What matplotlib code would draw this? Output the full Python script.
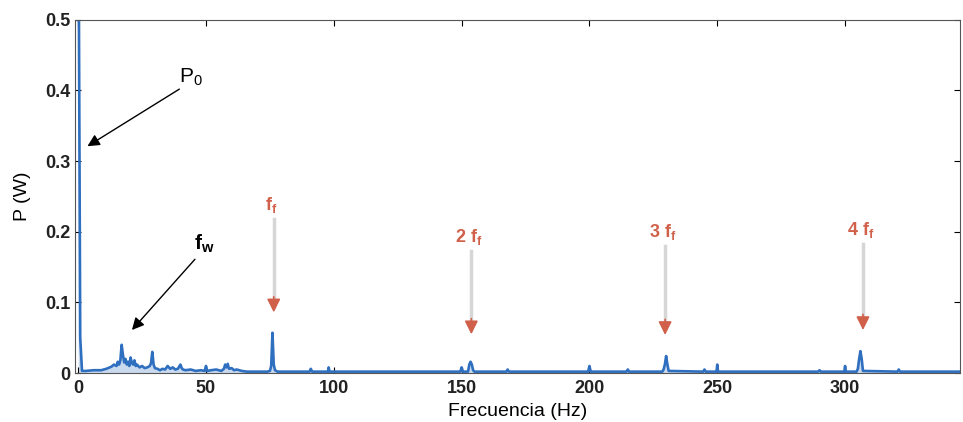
import matplotlib.pyplot as plt

plt.rcParams['font.family'] = ['Liberation Sans', 'DejaVu Sans']
plt.rcParams['mathtext.fontset'] = 'custom'
plt.rcParams['mathtext.rm'] = 'Liberation Sans'
plt.rcParams['mathtext.bf'] = 'Liberation Sans:bold'
plt.rcParams['mathtext.it'] = 'Liberation Sans'

# spectrum (Hz, W)
freq = [0, 0.3, 0.8, 1.5, 3, 6, 9, 11, 13, 14, 15, 15.5, 16, 16.5, 17, 17.5, 18, 18.5,
        19, 19.5, 20, 20.5, 21, 21.5, 22, 22.5, 23, 24, 25, 26, 27, 28, 28.5, 29, 29.5,
        30, 31, 32, 33, 34, 35, 36, 37, 38, 39, 40, 40.5, 41, 42, 44, 46, 48, 49.5, 50,
        50.5, 52, 54, 56, 57, 57.5, 58, 58.5, 59, 60, 61, 62, 64, 66, 70, 74, 75, 75.5,
        76, 76.5, 77, 78, 82, 88, 90.5, 91, 91.5, 95, 97.7, 98, 98.3, 110, 130, 149.5,
        150, 150.5, 152.5, 153, 153.5, 154, 154.5, 155, 160, 167.5, 168, 168.5, 185,
        199.5, 200, 200.5, 214.5, 215, 215.5, 228.5, 229, 229.5, 230, 230.5, 231, 244.5,
        245, 245.5, 249.7, 250, 250.3, 270, 289.5, 290, 290.5, 299.7, 300, 300.3, 304.5,
        305, 305.5, 306, 306.5, 307, 320.5, 321, 321.5, 340, 345]
power = [0.5, 0.5, 0.05, 0.003, 0.003, 0.004, 0.004, 0.006, 0.009, 0.012, 0.010, 0.016, 0.012, 0.018, 0.040, 0.026, 0.015, 0.020,
         0.012, 0.016, 0.010, 0.022, 0.014, 0.012, 0.018, 0.010, 0.012, 0.008, 0.010, 0.007, 0.008, 0.010, 0.014, 0.030, 0.012,
         0.007, 0.006, 0.004, 0.006, 0.005, 0.010, 0.006, 0.008, 0.005, 0.006, 0.012, 0.007, 0.005, 0.004, 0.005, 0.003, 0.004, 0.003, 0.010,
         0.003, 0.004, 0.005, 0.003, 0.006, 0.012, 0.008, 0.013, 0.006, 0.007, 0.004, 0.005, 0.003, 0.002, 0.002, 0.002, 0.003, 0.010,
         0.057, 0.012, 0.004, 0.002, 0.002, 0.002, 0.002, 0.006, 0.002, 0.002, 0.002, 0.008, 0.002, 0.002, 0.002, 0.002,
         0.008, 0.002, 0.002, 0.012, 0.016, 0.012, 0.004, 0.002, 0.002, 0.002, 0.005, 0.002, 0.002,
         0.002, 0.010, 0.002, 0.002, 0.005, 0.002, 0.002, 0.005, 0.012, 0.024, 0.012, 0.003, 0.002,
         0.005, 0.002, 0.002, 0.012, 0.002, 0.002, 0.002, 0.004, 0.002, 0.002, 0.010, 0.002, 0.002,
         0.006, 0.020, 0.031, 0.020, 0.003, 0.002, 0.005, 0.002, 0.002, 0.002]

xticks = [0, 50, 100, 150, 200, 250, 300]
yticks = [0, 0.1, 0.2, 0.3, 0.4, 0.5]
ytick_labels = ['0', '0.1', '0.2', '0.3', '0.4', '0.5']

# harmonic labels: text position, arrow tip
harm_labels = [r'$\mathbf{f_f}$', r'$\mathbf{2\ f_f}$', r'$\mathbf{3\ f_f}$', r'$\mathbf{4\ f_f}$']
harm_text_x = [75.6, 152.8, 228.5, 306.0]
harm_text_y = [0.238, 0.193, 0.200, 0.203]
harm_tip_x = [76.5, 153.8, 229.6, 307.0]
harm_tip_y = [0.082, 0.051, 0.050, 0.057]

blue = '#2f6fbf'
red = '#d0604a'

fig = plt.figure(figsize=(9.63, 4.22), dpi=100)
ax = fig.add_axes([0.078, 0.116, 0.919, 0.837])
ax.fill_between(freq, power, color=blue, alpha=0.25, lw=0)
ax.plot(freq, power, color=blue, lw=1.9)

ax.set_xlim(-1.2, 345)
ax.set_ylim(0, 0.5)
ax.set_xticks(xticks)
ax.set_yticks(yticks)
ax.set_yticklabels(ytick_labels)
ax.tick_params(direction='in', labelsize=13, length=4, top=True, right=True)
ax.tick_params(axis='x', pad=5)
for lab in ax.get_xticklabels() + ax.get_yticklabels():
    lab.set_fontweight('bold')
    lab.set_color('#222222')
ax.set_xlabel('Frecuencia (Hz)', fontsize=14, labelpad=4)
ax.set_ylabel('P (W)', fontsize=14, labelpad=10)
for s in ax.spines.values():
    s.set_color('#555555')
    s.set_linewidth(0.8)

# black annotations
ax.annotate('', xy=(2.7, 0.319), xytext=(40.5, 0.404),
            arrowprops=dict(arrowstyle='-|>', color='black', lw=1.0, mutation_scale=18))
ax.text(39.5, 0.418, r'$\mathregular{P_0}$', fontsize=15, ha='left', va='center')
ax.annotate('', xy=(20.3, 0.058), xytext=(46.4, 0.164),
            arrowprops=dict(arrowstyle='-|>', color='black', lw=1.0, mutation_scale=18))
ax.text(45.5, 0.183, r'$\mathbf{f_w}$', fontsize=15, ha='left', va='center')

# harmonic markers: pale shaft with red head
for lab, tx, ty, px, py in zip(harm_labels, harm_text_x, harm_text_y, harm_tip_x, harm_tip_y):
    ax.text(tx, ty, lab, color=red, fontsize=13, ha='center', va='center')
    ax.plot([px, px], [ty - 0.02, py + 0.012], color='#d6d6d6', lw=2.5)
    ax.annotate('', xy=(px, py), xytext=(px, py + 0.03),
                arrowprops=dict(arrowstyle='-|>', color=red, lw=1.2, mutation_scale=20))

fig.savefig('out.png', dpi=100)
